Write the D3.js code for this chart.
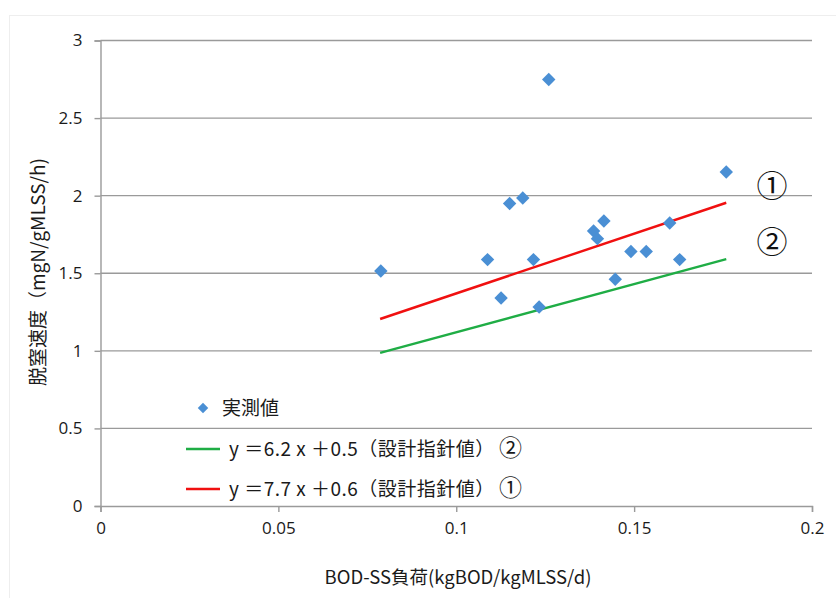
<!DOCTYPE html>
<html>
<head>
<meta charset="utf-8">
<script src="https://cdn.jsdelivr.net/npm/d3@7"></script>
<style>
  body { margin: 0; background: #fff; }
  svg { font-family: "Noto Sans CJK JP", "Noto Sans", sans-serif; }
</style>
</head>
<body>
<svg id="chart" width="836" height="598"></svg>
<script>
// measured points (BOD-SS load vs denitrification rate)
const loadX = [0.0788, 0.1260, 0.1088, 0.1150, 0.1187, 0.1126, 0.1217, 0.1233, 0.1386,
               0.1397, 0.1415, 0.1447, 0.1491, 0.1534, 0.1600, 0.1628, 0.1759];
const rateY = [1.515, 2.749, 1.588, 1.949, 1.985, 1.341, 1.588, 1.282, 1.772,
               1.723, 1.837, 1.461, 1.640, 1.640, 1.824, 1.588, 2.152];

// design guideline lines y = a x + b
const lineRange = [0.0786, 0.1759];
const guideLines = [
    { name: 'y ＝6.2 x ＋0.5（設計指針値）', a: 6.2, b: 0.5, color: '#1fad45', mark: '②' },
    { name: 'y ＝7.7 x ＋0.6（設計指針値）', a: 7.7, b: 0.6, color: '#f01010', mark: '①' }
];

const xTicks = [0, 0.05, 0.1, 0.15, 0.2];
const yTicks = [0, 0.5, 1, 1.5, 2, 2.5, 3];

const svg = d3.select('#chart');

// faint outer frame
svg.append('rect').attr('x', 9.5).attr('y', 15.5).attr('width', 840).attr('height', 600)
    .attr('fill', 'none').attr('stroke', '#eeeeee');

const x = d3.scaleLinear().domain([0, 0.2]).range([100.5, 812]);
const y = d3.scaleLinear().domain([0, 3]).range([506, 40.5]);

// horizontal gridlines
svg.append('g').selectAll('line').data(yTicks.filter(d => d > 0)).join('line')
    .attr('x1', x(0)).attr('x2', x(0.2))
    .attr('y1', d => y(d)).attr('y2', d => y(d))
    .attr('stroke', '#9a9a9a').attr('stroke-width', 1.4);

// axes
const xAxis = svg.append('g').attr('transform', `translate(0,${y(0)})`)
    .call(d3.axisBottom(x).tickValues(xTicks).tickSize(6).tickPadding(10)
        .tickFormat(d => d === 0 ? '0' : String(d)));
const yAxis = svg.append('g').attr('transform', `translate(${x(0)},0)`)
    .call(d3.axisLeft(y).tickValues(yTicks).tickSize(6).tickPadding(12)
        .tickFormat(d => String(d)));
for (const ax of [xAxis, yAxis]) {
    ax.select('.domain').attr('stroke', '#9a9a9a').attr('stroke-width', 1.4);
    ax.selectAll('.tick line').attr('stroke', '#9a9a9a').attr('stroke-width', 1.4);
    ax.selectAll('.tick text').attr('fill', '#1a1a1a').style('font-size', '17px')
        .style('font-family', '"Open Sans", "Noto Sans", sans-serif');
}

// axis titles
svg.append('text').attr('x', 458).attr('y', 584).attr('text-anchor', 'middle')
    .style('font-size', '18.5px').attr('fill', '#1a1a1a')
    .text('BOD-SS負荷(kgBOD/kgMLSS/d)');
svg.append('text').attr('transform', 'translate(45,272) rotate(-90)').attr('text-anchor', 'middle')
    .style('font-size', '19px').attr('fill', '#1a1a1a')
    .text('脱窒速度（mgN/gMLSS/h)');

// guideline lines and circled markers
for (const g of guideLines) {
    svg.append('line')
        .attr('x1', x(lineRange[0])).attr('y1', y(g.a * lineRange[0] + g.b))
        .attr('x2', x(lineRange[1])).attr('y2', y(g.a * lineRange[1] + g.b))
        .attr('stroke', g.color).attr('stroke-width', 2.4);
    svg.append('text').attr('x', 772).attr('y', y(g.a * lineRange[1] + g.b) - 6)
        .attr('text-anchor', 'middle').style('font-size', '31px').attr('fill', '#111')
        .text(g.mark);
}

// measured points as diamonds
const diamond = d3.symbol().type(d3.symbolDiamond2).size(115);
svg.append('g').selectAll('path').data(loadX.map((d, i) => [d, rateY[i]])).join('path')
    .attr('d', diamond)
    .attr('transform', d => `translate(${x(d[0])},${y(d[1])})`)
    .attr('fill', '#4a8fd4');

// legend
const legend = svg.append('g');
legend.append('path').attr('d', d3.symbol().type(d3.symbolDiamond2).size(70))
    .attr('transform', 'translate(203,408)').attr('fill', '#4a8fd4');
legend.append('text').attr('x', 222).attr('y', 415).style('font-size', '19px')
    .attr('fill', '#1a1a1a').text('実測値');
guideLines.forEach((g, i) => {
    const ly = 449 + i * 40;
    legend.append('line').attr('x1', 186).attr('x2', 220).attr('y1', ly).attr('y2', ly)
        .attr('stroke', g.color).attr('stroke-width', 2.4);
    const t = legend.append('text').attr('x', 229).attr('y', ly + 7).style('font-size', '19px')
        .style('letter-spacing', '0.5px').attr('fill', '#1a1a1a');
    t.append('tspan').text(g.name);
    t.append('tspan').attr('dx', 4).style('font-size', '23px').text(g.mark);
});
</script>
</body>
</html>
